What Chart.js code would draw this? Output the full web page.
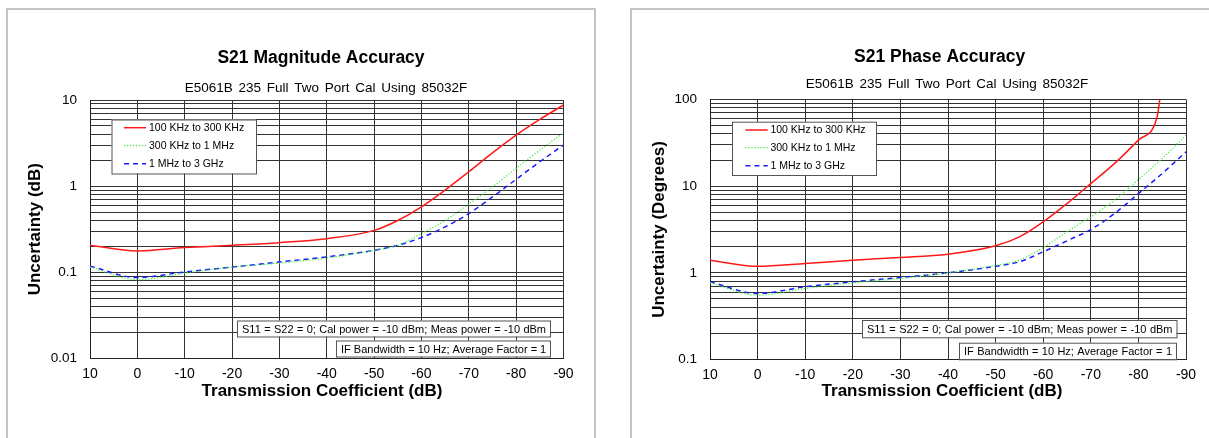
<!DOCTYPE html>
<html>
<head>
<meta charset="utf-8">
<script src="https://cdn.jsdelivr.net/npm/chart.js@4.4.1/dist/chart.umd.min.js"></script>
<style>
    body { margin: 0; background: #fff; width: 1209px; height: 438px; overflow: hidden; position: relative; }
    .panel { position: absolute; top: 8px; height: 440px; border: 2px solid #c4c4c4; border-bottom: none; }
    canvas { position: absolute; top: 0; }
</style>
</head>
<body>
<div class="panel" style="left:6px; width:586px;"></div>
<div class="panel" style="left:630px; width:600px;"></div>
<canvas id="magChart" width="600" height="438" style="left:0"></canvas>
<canvas id="phaseChart" width="599" height="438" style="left:610px"></canvas>
<script>
/* ================= DATA ================= */
const seriesNames = ["100 KHz to 300 KHz", "300 KHz to 1 MHz", "1 MHz to 3 GHz"];
const xValues = [10, 0, -10, -20, -30, -40, -50, -55, -60, -65, -70, -75, -80, -85, -90];

// S21 magnitude uncertainty (dB)
const magRed   = [0.206, 0.177, 0.194, 0.206, 0.221, 0.246, 0.307, 0.40, 0.575, 0.90, 1.47, 2.44, 3.92, 5.96, 8.75];
const magGreen = [0.115, 0.082, 0.098, 0.115, 0.128, 0.147, 0.180, 0.206, 0.282, 0.40, 0.62, 0.98, 1.61, 2.62, 4.17];
const magBlue  = [0.118, 0.087, 0.101, 0.115, 0.132, 0.151, 0.180, 0.206, 0.253, 0.337, 0.48, 0.75, 1.20, 1.92, 3.00];

// S21 phase uncertainty (degrees)
const phaseRedX = [10, 0, -10, -20, -30, -40, -50, -55, -60, -65, -70, -75, -80, -83.9, -84.5];
const phaseRed   = [1.40, 1.19, 1.28, 1.40, 1.50, 1.64, 2.05, 2.60, 3.87, 6.3, 10.7, 18.3, 34, 62, 100];
const phaseGreen = [0.767, 0.552, 0.66, 0.767, 0.86, 1.0, 1.22, 1.40, 1.96, 2.97, 4.43, 6.9, 11.9, 20.8, 38.7];
const phaseBlue  = [0.787, 0.578, 0.69, 0.787, 0.883, 1.0, 1.19, 1.34, 1.75, 2.34, 3.16, 4.84, 8.2, 14.0, 24.9];

const subtitleText = "E5061B 235 Full Two Port Cal Using 85032F";
const noteLine1 = "S11 = S22 = 0; Cal power = -10 dBm; Meas power = -10 dBm";
const noteLine2 = "IF Bandwidth = 10 Hz; Average Factor = 1";

const FONT = "'Liberation Sans', Arial, sans-serif";
const lineStyles = [
    { color: "#ff1a1a", width: 1.5, dash: [] },
    { color: "#33ee33", width: 1.2, dash: [1.2, 1.8] },
    { color: "#1a1aff", width: 1.5, dash: [5, 4] }
];

function pts(xs, ys) {
    return xs.map((x, i) => ({ x: x, y: ys[i] }));
}

/* ================= DECOR (titles, legend, notes) ================= */
function decorPlugin(d) {
    return {
        id: "decor",
        afterDraw(chart) {
            const ctx = chart.ctx;
            ctx.save();
            ctx.fillStyle = "#000";
            ctx.textAlign = "center";
            ctx.textBaseline = "middle";

            ctx.font = "bold 17.5px " + FONT;
            ctx.fillText(d.title, d.titleX, d.titleY);
            ctx.font = "13.5px " + FONT;
            if ("wordSpacing" in ctx) ctx.wordSpacing = "2px";
            ctx.fillText(subtitleText, d.subX, d.subY);
            if ("wordSpacing" in ctx) ctx.wordSpacing = "0px";

            ctx.font = "bold 17px " + FONT;
            ctx.fillText("Transmission Coefficient (dB)", d.xTitleX, d.xTitleY);
            ctx.save();
            ctx.translate(d.yTitleX, (chart.chartArea.top + chart.chartArea.bottom) / 2);
            ctx.rotate(-Math.PI / 2);
            ctx.fillText(d.yTitle, 0, 0);
            ctx.restore();

            // legend box
            const lg = d.legend;
            ctx.fillStyle = "#fff";
            ctx.fillRect(lg.x0, lg.y0, lg.x1 - lg.x0, lg.y1 - lg.y0);
            ctx.strokeStyle = "#555";
            ctx.lineWidth = 1;
            ctx.strokeRect(lg.x0 + 0.5, lg.y0 + 0.5, lg.x1 - lg.x0, lg.y1 - lg.y0);
            ctx.font = "10.5px " + FONT;
            ctx.textAlign = "left";
            seriesNames.forEach((name, i) => {
                const y = lg.rows[i];
                const st = lineStyles[i];
                ctx.strokeStyle = st.color;
                ctx.lineWidth = st.width;
                ctx.setLineDash(st.dash);
                ctx.beginPath();
                ctx.moveTo(lg.lx0, y);
                ctx.lineTo(lg.lx1, y);
                ctx.stroke();
                ctx.setLineDash([]);
                ctx.fillStyle = "#000";
                ctx.fillText(name, lg.tx, y);
            });

            // note boxes, text stretched to the box width like the original
            [[d.note1, noteLine1], [d.note2, noteLine2]].forEach(([b, txt]) => {
                ctx.fillStyle = "#fff";
                ctx.fillRect(b[0], b[1], b[2] - b[0], b[3] - b[1]);
                ctx.strokeStyle = "#555";
                ctx.lineWidth = 1;
                ctx.strokeRect(b[0] + 0.5, b[1] + 0.5, b[2] - b[0], b[3] - b[1]);
                ctx.font = "11px " + FONT;
                const avail = b[2] - b[0] - 9;
                const words = txt.split(" ");
                const natural = ctx.measureText(txt).width;
                const gap = ctx.measureText(" ").width + Math.max(0, avail - natural) / (words.length - 1);
                ctx.fillStyle = "#000";
                ctx.textAlign = "left";
                let x = b[0] + 5;
                const y = (b[1] + b[3]) / 2 + 1;
                words.forEach(w => {
                    ctx.fillText(w, x, y);
                    x += ctx.measureText(w).width + gap;
                });
            });
            ctx.restore();
        }
    };
}

function logTicks(min, max) {
    const ticks = [];
    for (let e = Math.round(Math.log10(min)); e < Math.round(Math.log10(max)); e++) {
        for (let m = 1; m <= 9; m++) ticks.push({ value: m * Math.pow(10, e) });
    }
    ticks.push({ value: max });
    return ticks;
}

function buildChart(canvasId, area, yMin, yMax, datasets, decor) {
    const canvas = document.getElementById(canvasId);
    return new Chart(canvas.getContext("2d"), {
        type: "line",
        data: {
            datasets: datasets.map((ds, i) => ({
                label: seriesNames[i],
                data: ds,
                borderColor: lineStyles[i].color,
                borderWidth: lineStyles[i].width,
                borderDash: lineStyles[i].dash,
                pointRadius: 0,
                fill: false,
                cubicInterpolationMode: "monotone"
            }))
        },
        options: {
            responsive: false,
            animation: false,
            layout: { padding: { top: area.top, right: canvas.width - area.right, left: 0, bottom: 0 } },
            plugins: { legend: { display: false }, tooltip: { enabled: false }, title: { display: false } },
            scales: {
                x: {
                    type: "linear",
                    min: -90,
                    max: 10,
                    reverse: true,
                    afterFit: s => { s.height = canvas.height - area.bottom; },
                    ticks: { stepSize: 10, padding: 7, color: "#000", font: { family: FONT, size: 14 } },
                    grid: { color: "#333", lineWidth: 1, drawTicks: false },
                    border: { color: "#222", width: 1 }
                },
                y: {
                    type: "logarithmic",
                    min: yMin,
                    max: yMax,
                    afterFit: s => { s.width = area.left; },
                    afterBuildTicks: s => { s.ticks = logTicks(yMin, yMax); },
                    ticks: {
                        autoSkip: false,
                        padding: 13,
                        color: "#000",
                        font: { family: FONT, size: 13.5 },
                        callback: v => {
                            const l = Math.log10(v);
                            return Math.abs(l - Math.round(l)) < 1e-9 ? String(v) : "";
                        }
                    },
                    grid: { color: "#333", lineWidth: 1, drawTicks: false },
                    border: { color: "#222", width: 1 }
                }
            }
        },
        plugins: [decorPlugin(decor)]
    });
}

document.addEventListener("DOMContentLoaded", () => {

    /* ================= MAGNITUDE ================= */
    buildChart("magChart",
        { left: 90, right: 563.5, top: 100, bottom: 358.5 },
        0.01, 10,
        [pts(xValues, magRed), pts(xValues, magGreen), pts(xValues, magBlue)],
        {
            title: "S21 Magnitude Accuracy", titleX: 321, titleY: 58,
            subX: 326, subY: 88,
            xTitleX: 322, xTitleY: 391,
            yTitle: "Uncertainty (dB)", yTitleX: 35,
            legend: { x0: 111.5, y0: 119.5, x1: 256, y1: 173.5, rows: [127.7, 145.7, 163.7], lx0: 124, lx1: 146, tx: 149 },
            note1: [237, 320.5, 550, 336.5],
            note2: [336, 340.5, 550, 356.5]
        });

    /* ================= PHASE ================= */
    buildChart("phaseChart",
        { left: 100, right: 576, top: 99.5, bottom: 359.5 },
        0.1, 100,
        [pts(phaseRedX, phaseRed), pts(xValues, phaseGreen), pts(xValues, phaseBlue)],
        {
            title: "S21 Phase Accuracy", titleX: 329.6, titleY: 56.7,
            subX: 337, subY: 84.3,
            xTitleX: 332, xTitleY: 391.7,
            yTitle: "Uncertainty (Degrees)", yTitleX: 49,
            legend: { x0: 122, y0: 121.7, x1: 266, y1: 175, rows: [130, 147.7, 165.7], lx0: 135.4, lx1: 157.7, tx: 160.4 },
            note1: [252, 320, 566.5, 337.3],
            note2: [349, 342.7, 566, 359.3]
        });

});
</script>
</body>
</html>
